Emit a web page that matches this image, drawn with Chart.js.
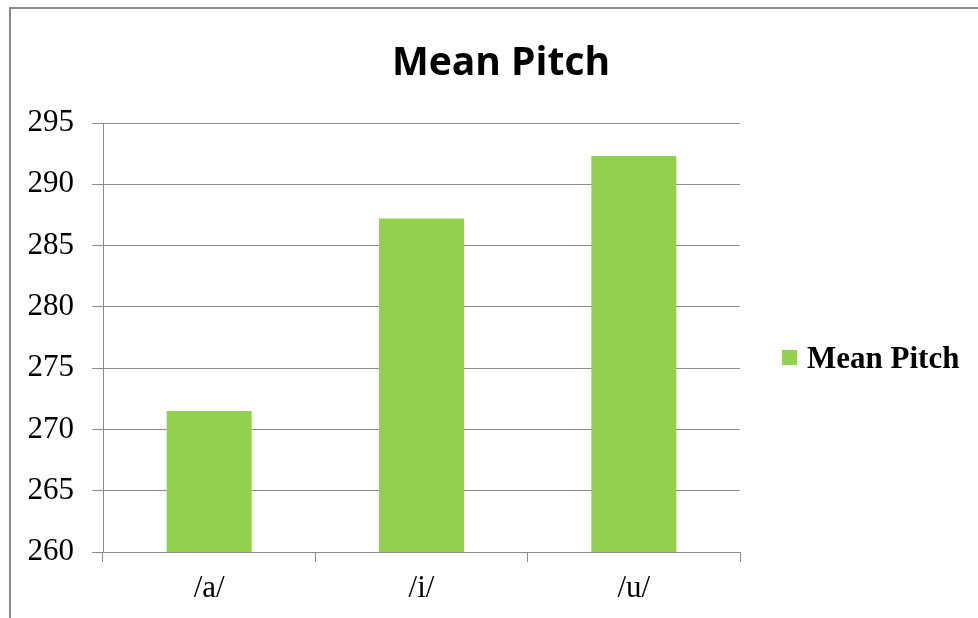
<!DOCTYPE html>
<html>
<head>
<meta charset="utf-8">
<title>Mean Pitch</title>
<script src="https://cdn.jsdelivr.net/npm/chart.js@4.4.1/dist/chart.umd.min.js"></script>
<style>
  html, body { margin: 0; padding: 0; background: #ffffff; }
  #wrap { position: relative; width: 978px; height: 618px; }
</style>
</head>
<body>
<div id="wrap"><canvas id="chart" width="978" height="618"></canvas></div>
<script>
// Vowel categories and their mean pitch values (Hz)
const vowels = ['/a/', '/i/', '/u/'];
const meanPitch = [271.5, 287.2, 292.3];
const seriesName = 'Mean Pitch';
const chartTitle = 'Mean Pitch';
const yTicks = [260, 265, 270, 275, 280, 285, 290, 295];

const BAR_GREEN = '#92D050';
const GRID_GREY = '#8c8c8c';
const SERIF = '"Liberation Serif", "Times New Roman", serif';

// Frame around the whole chart (top and left edges show)
const framePlugin = {
  id: 'frame',
  beforeDraw(chart) {
    const ctx = chart.ctx;
    ctx.save();
    ctx.fillStyle = '#ffffff';
    ctx.fillRect(0, 0, chart.width, chart.height);
    ctx.strokeStyle = '#8a8a8a';
    ctx.lineWidth = 2;
    ctx.beginPath();
    ctx.moveTo(10, chart.height + 2);
    ctx.lineTo(10, 8);
    ctx.lineTo(chart.width + 2, 8);
    ctx.stroke();
    ctx.restore();
  }
};

// Title centred over the full chart box
const headingPlugin = {
  id: 'heading',
  afterDraw(chart) {
    const ctx = chart.ctx;
    ctx.save();
    ctx.fillStyle = '#000000';
    ctx.font = 'bold 39px "Open Sans", sans-serif';
    ctx.textAlign = 'center';
    ctx.textBaseline = 'alphabetic';
    ctx.fillText(chartTitle, (10 + chart.width) / 2 + 7, 75);
    ctx.restore();
  }
};

// Legend to the right of the plot area
const sideLegendPlugin = {
  id: 'sideLegend',
  afterDraw(chart) {
    const ctx = chart.ctx;
    const area = chart.chartArea;
    const ds = chart.data.datasets[0];
    const cy = (area.top + area.bottom) / 2 + 20;
    const x0 = area.right + 42;
    ctx.save();
    ctx.fillStyle = ds.backgroundColor;
    ctx.fillRect(x0, cy - 7.5, 15, 15);
    ctx.fillStyle = '#000000';
    ctx.font = 'bold 31px ' + SERIF;
    ctx.textAlign = 'left';
    ctx.textBaseline = 'alphabetic';
    ctx.fillText(ds.label, x0 + 25, cy + 10);
    ctx.restore();
  }
};

new Chart(document.getElementById('chart'), {
  type: 'bar',
  data: {
    labels: vowels,
    datasets: [{
      label: seriesName,
      data: meanPitch,
      backgroundColor: BAR_GREEN,
      borderWidth: 0,
      categoryPercentage: 1.0,
      barPercentage: 0.4
    }]
  },
  options: {
    responsive: false,
    animation: false,
    layout: { padding: { left: 12, right: 238, top: 123, bottom: 0 } },
    plugins: {
      legend: { display: false },
      tooltip: { enabled: false },
      title: { display: false }
    },
    scales: {
      x: {
        grid: {
          display: true,
          offset: true,
          drawOnChartArea: false,
          drawTicks: true,
          tickLength: 10,
          color: GRID_GREY,
          lineWidth: 1
        },
        border: { display: true, color: GRID_GREY, width: 1 },
        ticks: {
          color: '#000000',
          font: { family: SERIF, size: 31 },
          padding: 8,
          maxRotation: 0
        },
        afterFit(scale) { scale.height = 66; }
      },
      y: {
        min: 260,
        max: 295,
        afterBuildTicks(scale) { scale.ticks = yTicks.map(v => ({ value: v })); },
        grid: {
          color: GRID_GREY,
          lineWidth: 1,
          drawTicks: true,
          tickLength: 11
        },
        border: { display: true, color: GRID_GREY, width: 1 },
        ticks: {
          color: '#000000',
          font: { family: SERIF, size: 31 },
          padding: 18
        },
        afterFit(scale) { scale.width = 91; }
      }
    }
  },
  plugins: [framePlugin, headingPlugin, sideLegendPlugin]
});
</script>
</body>
</html>
